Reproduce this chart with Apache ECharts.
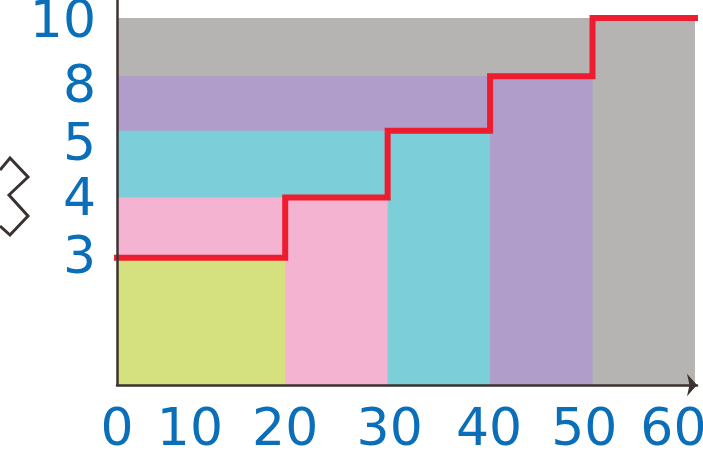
<!DOCTYPE html>
<html>
<head>
<meta charset="utf-8">
<script src="https://cdn.jsdelivr.net/npm/echarts@6/dist/echarts.min.js"></script>
<style>
html,body{margin:0;padding:0;background:#fff;}
#c{width:703px;height:457px;}
</style>
</head>
<body>
<div id="c"></div>
<script>
// x breakpoints of the step function and the level reached at each step
const xBreaks = [0, 20, 30, 40, 50, 60];
const levels = [3, 4, 5, 8, 10];
// where each level sits on the (non-linear) drawn vertical scale
const levelPositions = [3.47, 5.11, 6.93, 8.41, 10.0];
// coloured regions: each one is filled up to a level, from x=0 to its end
const regionEnds = [60, 50, 40, 30, 20];
const regionLevels = [10, 8, 5, 4, 3];
const regionColors = ['#b5b4b3', '#b09dc9', '#7ccfd9', '#f3b3d1', '#d4e17e'];
// tick labels
const xTickLabels = ['0', '10', '20', '30', '40', '50', '60'];
const xTickPositions = [3.58, 10.7, 20, 30.2, 39.9, 49.2, 57.9];
const yTickLabels = ['3', '4', '5', '8', '10'];
const yTickPositions = [3.41, 4.99, 6.51, 8.07, 9.85];

const posOf = v => levelPositions[levels.indexOf(v)];
const labelFor = (positions, labels) => v => {
  let best = 0, d = Infinity;
  positions.forEach((p, i) => { const e = Math.abs(p - v); if (e < d) { d = e; best = i; } });
  return labels[best];
};

const series = regionEnds.map((end, i) => ({
  type: 'line',
  data: [[0, posOf(regionLevels[i])], [end, posOf(regionLevels[i])]],
  symbol: 'none',
  lineStyle: { width: 0 },
  areaStyle: { color: regionColors[i], opacity: 1 },
  silent: true,
  z: 2 + i
}));

const stepData = xBreaks.map((x, i) => [x, posOf(levels[Math.min(i, levels.length - 1)])]);
series.push({
  type: 'line',
  step: 'end',
  data: stepData,
  symbol: 'none',
  lineStyle: { color: '#ed1c2e', width: 6, cap: 'square', join: 'miter' },
  z: 20
});

const chart = echarts.init(document.getElementById('c'), null, { renderer: 'canvas' });
chart.setOption({
  animation: false,
  backgroundColor: '#ffffff',
  grid: { left: 117, right: 6, top: 0, bottom: 72, containLabel: false, outerBoundsMode: 'none' },
  xAxis: {
    type: 'value', min: 3.58, max: 60.2, z: 30,
    splitLine: { show: false },
    axisTick: { show: false },
    axisLine: { show: true, lineStyle: { color: '#3b3231', width: 2.5 },
      symbol: ['none', 'arrow'], symbolSize: [17, 10] },
    axisLabel: {
      customValues: xTickPositions,
      formatter: labelFor(xTickPositions, xTickLabels),
      color: '#0a6fb8', fontFamily: 'DejaVu Sans', fontSize: 52,
      margin: 20, showMinLabel: true, showMaxLabel: true, hideOverlap: false
    }
  },
  yAxis: {
    type: 'value', min: 0, max: 10.49, z: 30,
    splitLine: { show: false },
    axisTick: { show: false },
    axisLine: { show: true, lineStyle: { color: '#3b3231', width: 2.5 } },
    axisLabel: {
      customValues: yTickPositions,
      formatter: labelFor(yTickPositions, yTickLabels),
      color: '#0a6fb8', fontFamily: 'DejaVu Sans', fontSize: 52,
      margin: 21, showMinLabel: true, showMaxLabel: true, hideOverlap: false
    }
  },
  graphic: [{
    type: 'polyline',
    shape: { points: [[0, 170], [10, 158], [28, 177], [9, 195], [28, 216], [10, 235], [0, 226]] },
    style: { stroke: '#3a3230', lineWidth: 3, fill: null, lineJoin: 'miter' }
  }],
  series: series
});
</script>
</body>
</html>
